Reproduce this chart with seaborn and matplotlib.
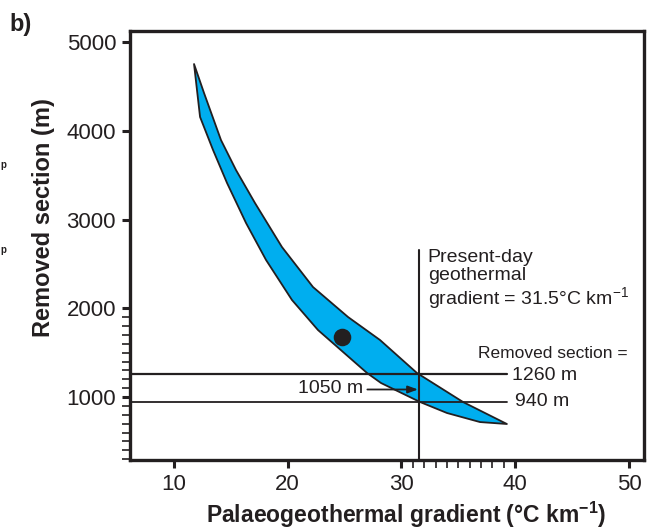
import numpy as np
import pandas as pd
import matplotlib
matplotlib.use("Agg")
import matplotlib.pyplot as plt
from matplotlib.ticker import FixedLocator
import seaborn as sns

# ---- data ----
# upper (right) edge of the envelope, from top tip down to lower tip
upper_x = [11.76, 12.64, 14.13, 15.45, 17.12, 19.49, 22.22, 25.30, 28.11, 31.36, 35.41, 39.27]
upper_y = [4754, 4427, 3897, 3559, 3187, 2691, 2240, 1902, 1643, 1271, 944, 696]
# lower (left) edge, from top tip down to lower tip
lower_x = [11.76, 12.29, 13.43, 14.66, 16.33, 18.09, 20.37, 22.66, 26.97, 28.20, 31.63, 34.0, 36.9, 39.27]
lower_y = [4754, 4157, 3785, 3413, 2962, 2545, 2094, 1755, 1271, 1158, 944, 820, 718, 696]

point_x = [24.8]
point_y = [1680]

present_gradient = 31.5
removed_max = 1260
removed_min = 940
removed_mid = 1050

x_major = [10, 20, 30, 40, 50]
x_minor = [31, 32, 33, 34, 35, 36, 37, 38, 39]
y_major = [1000, 2000, 3000, 4000, 5000]
y_minor = [300, 400, 500, 600, 700, 800, 900, 1100, 1200, 1300, 1400, 1500, 1600, 1700, 1800, 1900]

# ---- style ----
sns.set_style("ticks")
plt.rcParams["font.family"] = ["Liberation Sans", "DejaVu Sans"]
plt.rcParams["mathtext.fontset"] = "custom"
plt.rcParams["mathtext.rm"] = "Liberation Sans"
plt.rcParams["mathtext.bf"] = "Liberation Sans:bold"
plt.rcParams["mathtext.default"] = "regular"

INK = "#231F20"
BLUE = "#00AEEF"

fig = plt.figure(figsize=(6.48, 5.29), dpi=100)
ax = fig.add_axes([0.2006, 0.1304, 0.7932, 0.811])

# envelope polygon
poly_x = upper_x + lower_x[::-1]
poly_y = upper_y + lower_y[::-1]
ax.fill(poly_x, poly_y, facecolor=BLUE, edgecolor=INK, linewidth=1.3,
        joinstyle="round", zorder=2)

# black dot
df_pt = pd.DataFrame({"x": point_x, "y": point_y})
sns.scatterplot(data=df_pt, x="x", y="y", ax=ax, s=160, color=INK,
                edgecolor=INK, linewidth=0, zorder=5, legend=False)

xmin, xmax = 6.13, 51.32
ymin, ymax = 290, 5126
ax.set_xlim(xmin, xmax)
ax.set_ylim(ymin, ymax)

# present-day gradient line
ax.plot([present_gradient, present_gradient], [ymin, 2657], color=INK, lw=1.5, zorder=4)
# removed section lines
ax.plot([xmin, 39.3], [removed_max, removed_max], color=INK, lw=1.6, zorder=4)
ax.plot([xmin, 39.3], [removed_min, removed_min], color=INK, lw=1.3, zorder=4)

# arrow for 1050 m
ax.annotate("", xy=(present_gradient - 0.05, 1085), xytext=(27.0, 1085),
            arrowprops=dict(arrowstyle="-|>,head_length=0.6,head_width=0.22",
                            color=INK, lw=1.3, shrinkA=0, shrinkB=0), zorder=4)
ax.text(26.6, 1100, f"{removed_mid} m", ha="right", va="center", fontsize=14, color=INK)

ax.text(32.3, 2665, "Present-day\ngeothermal\ngradient = 31.5°C km$^{-1}$",
        ha="left", va="top", fontsize=14, color=INK, linespacing=1.05)
ax.text(49.9, 1496, "Removed section =", ha="right", va="center", fontsize=12.5, color=INK)
ax.text(39.7, 1248, f"{removed_max} m", ha="left", va="center", fontsize=14, color=INK)
ax.text(40.0, 944, f"{removed_min} m", ha="left", va="center", fontsize=14, color=INK)

# ticks
ax.xaxis.set_major_locator(FixedLocator(x_major))
ax.xaxis.set_minor_locator(FixedLocator(x_minor))
ax.yaxis.set_major_locator(FixedLocator(y_major))
ax.yaxis.set_minor_locator(FixedLocator(y_minor))
ax.tick_params(which="major", direction="out", length=6, width=2.2, color=INK,
               labelsize=16, labelcolor=INK, pad=4)
ax.tick_params(which="minor", direction="out", length=6, width=1.2, color=INK)

for sp in ax.spines.values():
    sp.set_visible(True)
    sp.set_linewidth(2.4)
    sp.set_color(INK)

ax.set_xlabel("Palaeogeothermal gradient (°C km$^{-1}$)", fontsize=16.5,
              fontweight="bold", color=INK)
ax.set_ylabel("Removed section (m)", fontsize=17, fontweight="bold", color=INK)
ax.xaxis.set_label_coords(0.537, -0.092)
ax.yaxis.set_label_coords(-0.146, 0.564)

fig.text(0.014, 0.975, "b)", fontsize=17, fontweight="bold", color=INK, ha="left", va="top")
fig.text(0.0, 0.688, "p", fontsize=7, fontweight="bold", color=INK, ha="left", va="center")
fig.text(0.0, 0.527, "p", fontsize=7, fontweight="bold", color=INK, ha="left", va="center")

fig.savefig("out.png", dpi=100)
